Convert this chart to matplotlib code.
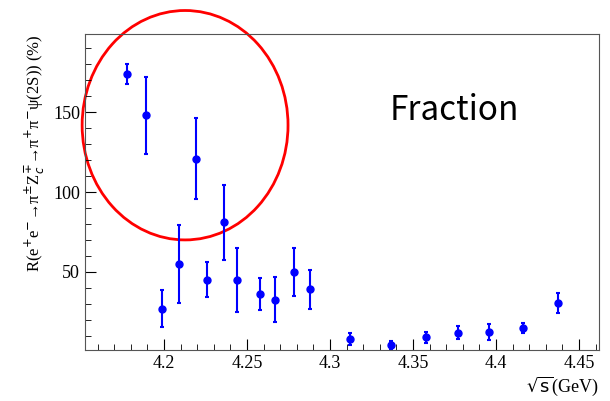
import matplotlib
matplotlib.use('Agg')
import matplotlib.pyplot as plt
from matplotlib.patches import Ellipse
from matplotlib.ticker import MultipleLocator

energy = [4.178, 4.189, 4.199, 4.209, 4.219, 4.226, 4.236, 4.244, 4.258, 4.267,
          4.278, 4.288, 4.312, 4.337, 4.358, 4.377, 4.396, 4.416, 4.437]
ratio = [174, 148, 27, 55, 121, 45, 81, 45, 36, 32.5,
         50, 39, 8, 4, 9, 12, 12.5, 15, 30.5]
err = [6, 24, 11.5, 24.5, 25.6, 11, 23.5, 20, 10, 14,
       15, 12, 4, 2.5, 3.5, 4, 5, 3, 6]

plt.rcParams['font.family'] = 'Liberation Serif'

fig = plt.figure(figsize=(6.1, 4.01), dpi=100)
ax = fig.add_axes([0.139, 0.127, 0.843, 0.788])
ax.errorbar(energy, ratio, yerr=err, fmt='o', color='blue', ms=5,
            elinewidth=1.5, capsize=1.5, capthick=1.5)
ax.set_xlim(4.1523, 4.462)
ax.set_ylim(1, 199)
ax.xaxis.set_minor_locator(MultipleLocator(0.01))
ax.yaxis.set_major_locator(MultipleLocator(50))
ax.yaxis.set_minor_locator(MultipleLocator(10))
ax.set_xticks([4.2, 4.25, 4.3, 4.35, 4.4, 4.45])
ax.set_xticklabels(['4.2', '4.25', '4.3', '4.35', '4.4', '4.45'])
ax.tick_params(which='both', direction='in', labelsize=13, top=False, right=False)
ax.tick_params(which='major', length=8)
ax.tick_params(which='minor', length=4)
for s in ax.spines.values():
    s.set_color('#555555')
ax.set_xlabel(r'$\sqrt{\rm s}$(GeV)', fontsize=13, loc='right', labelpad=2)
ax.set_ylabel('R(e$^{+}$e$^{-}$→π$^{±}$Z$_{c}^{∓}$→π$^{+}$π$^{-}$ψ(2S)) (%)',
              fontsize=12, loc='top')

ax.add_patch(Ellipse((4.2127, 141.9), 0.124, 143.75, fill=False, edgecolor='red',
                     lw=2, clip_on=False))
fig.text(0.745, 0.725, 'Fraction', fontsize=24, family='Noto Sans CJK SC',
         fontweight='light', ha='center', va='center')

fig.savefig('out.png', dpi=100)
